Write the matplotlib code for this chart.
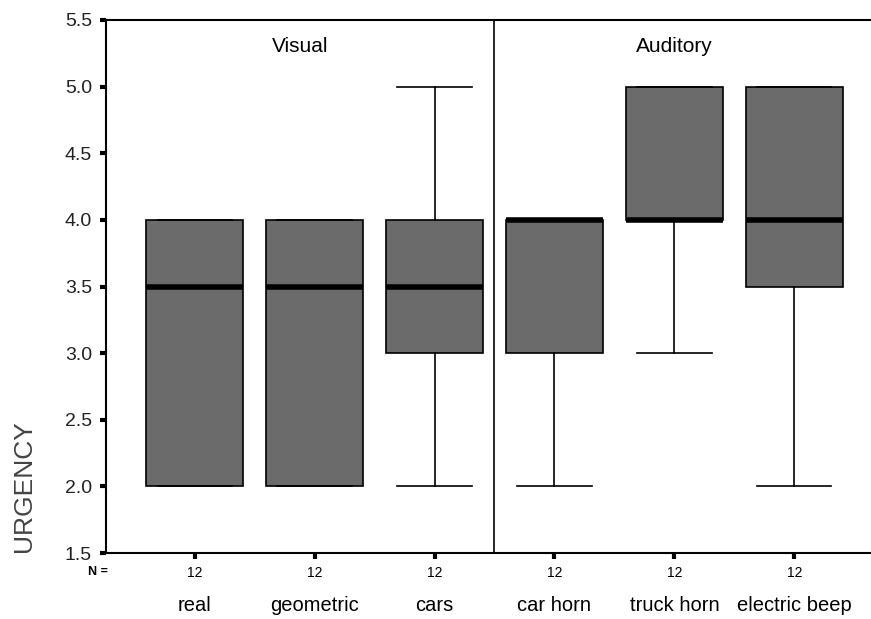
import matplotlib
matplotlib.use('Agg')
import matplotlib.pyplot as plt

plt.rcParams['font.family'] = ['Liberation Sans', 'DejaVu Sans']

# box summaries
categories = ['real', 'geometric', 'cars', 'car horn', 'truck horn', 'electric beep']
whislo = [2.0, 2.0, 2.0, 2.0, 3.0, 2.0]
q1 = [2.0, 2.0, 3.0, 3.0, 4.0, 3.5]
med = [3.5, 3.5, 3.5, 4.0, 4.0, 4.0]
q3 = [4.0, 4.0, 4.0, 4.0, 5.0, 5.0]
whishi = [4.0, 4.0, 5.0, 4.0, 5.0, 5.0]
counts = [12, 12, 12, 12, 12, 12]
groups = ['Visual', 'Auditory']

stats = []
for i in range(len(categories)):
    stats.append({'whislo': whislo[i], 'q1': q1[i], 'med': med[i], 'q3': q3[i],
                  'whishi': whishi[i], 'label': categories[i]})

fig = plt.figure(figsize=(8.71, 6.19), dpi=100)
ax = fig.add_axes([0.1217, 0.1066, 0.8783, 0.8611])

pos = list(range(1, len(categories) + 1))
ax.bxp(stats, positions=pos, widths=0.81, showfliers=False, patch_artist=True,
       boxprops=dict(facecolor='#6b6b6b', edgecolor='black', linewidth=1.2),
       medianprops=dict(color='black', linewidth=4),
       whiskerprops=dict(color='black', linewidth=1.2),
       capprops=dict(color='black', linewidth=1.2),
       capwidths=0.62)

ax.set_xlim(0.26, 6.64)
ax.set_ylim(1.5, 5.5)
ax.set_yticks([1.5, 2.0, 2.5, 3.0, 3.5, 4.0, 4.5, 5.0, 5.5])
ax.set_yticklabels(['1.5', '2.0', '2.5', '3.0', '3.5', '4.0', '4.5', '5.0', '5.5'], fontsize=14, color='#222222')
ax.set_xticks(pos)
ax.set_xticklabels(['' for c in categories])
ax.tick_params(axis='both', direction='out', length=4, width=3, color='black', pad=6)

ax.spines['right'].set_visible(False)
for s in ['left', 'bottom', 'top']:
    ax.spines[s].set_linewidth(1.5)

# divider between visual and auditory
ax.axvline(3.5, color='black', linewidth=1.2)
ax.text(1.88, 5.30, groups[0], ha='center', va='center', fontsize=15)
ax.text(5.0, 5.30, groups[1], ha='center', va='center', fontsize=15)

tr = ax.get_xaxis_transform()
for p, c, n in zip(pos, categories, counts):
    ax.text(p, -0.038, str(n), transform=tr, ha='center', va='center', fontsize=10)
    ax.text(p, -0.098, c, transform=tr, ha='center', va='center', fontsize=14.5)
ax.text(0.26 - 0.07, -0.036, 'N =', transform=tr, ha='center', va='center',
        fontsize=9, fontweight='bold')

fig.text(0.027, 0.215, 'URGENCY', rotation=90, ha='center', va='center',
         fontsize=19, color='#444444')

fig.savefig('out.png', dpi=100)
